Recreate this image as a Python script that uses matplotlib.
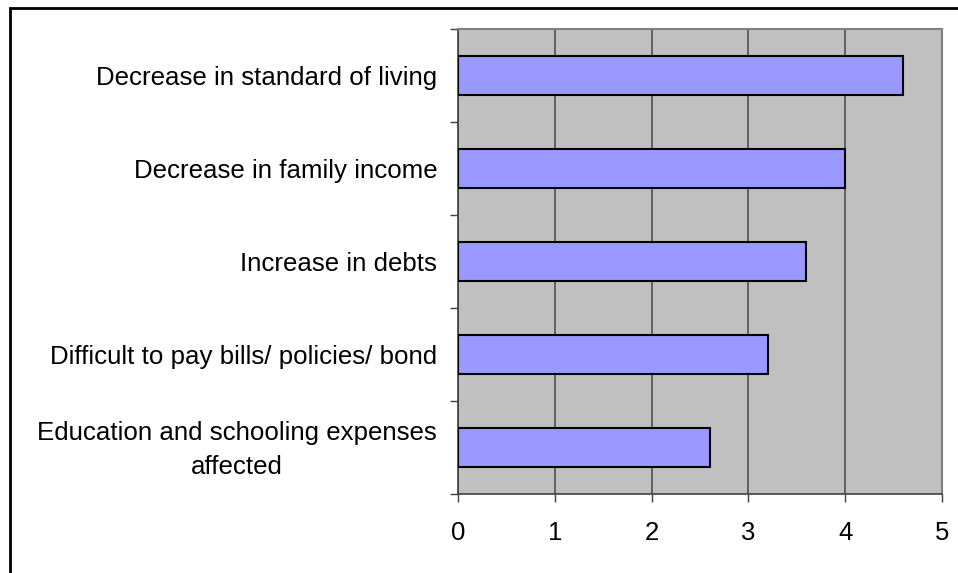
import matplotlib.pyplot as plt
from matplotlib.patches import Rectangle
from matplotlib.transforms import ScaledTranslation
import numpy as np

categories = [
    "Decrease in standard of living",
    "Decrease in family income",
    "Increase in debts",
    "Difficult to pay bills/ policies/ bond",
    "Education and schooling expenses\naffected",
]
values = [4.6, 4.0, 3.6, 3.2, 2.6]
x_ticks = [0, 1, 2, 3, 4, 5]

plt.rcParams['font.family'] = ['Liberation Sans', 'DejaVu Sans']

fig = plt.figure(figsize=(9.58, 5.73), dpi=100)
ax = fig.add_axes([458 / 958, 79 / 573, 484 / 958, 465 / 573])
ax.set_facecolor('#C0C0C0')

pos = np.arange(len(categories))
ax.barh(pos, values, height=0.41, color='#9999FF', edgecolor='black',
        linewidth=1.5, zorder=3)

ax.set_xlim(0, 5)
ax.set_ylim(len(categories) - 0.5, -0.5)

ax.set_xticks(x_ticks)
ax.set_xticklabels([str(t) for t in x_ticks], fontsize=18.5)
ax.tick_params(axis='x', length=6, width=1, color='#404040', pad=13.5,
               direction='out')
ax.grid(axis='x', color='#505050', linewidth=1.2, zorder=1)

ax.set_yticks(pos)
ylabels = ax.set_yticklabels(categories, fontsize=18.6, multialignment='center',
                             linespacing=1.55)
ax.set_yticks(np.arange(len(categories) + 1) - 0.5, minor=True)
ax.tick_params(axis='y', which='major', length=0, pad=15)
ax.tick_params(axis='y', which='minor', length=6, width=1, color='#404040',
               direction='out')

# two-line label sits a little higher in the original
lbl = ylabels[-1]
lbl.set_transform(lbl.get_transform() + ScaledTranslation(0, 5 / 100, fig.dpi_scale_trans))

for side in ['top', 'right']:
    ax.spines[side].set_color('#808080')
    ax.spines[side].set_linewidth(1.5)
for side in ['left', 'bottom']:
    ax.spines[side].set_color('#404040')
    ax.spines[side].set_linewidth(1.2)

# outer chart border, cut off at the right and bottom of the picture
border = Rectangle((9.5 / 958, -0.05), 1.1, 1.05 - 8.5 / 573,
                   transform=fig.transFigure, fill=False,
                   edgecolor='black', linewidth=2, clip_on=False)
fig.patches.append(border)

fig.savefig('out.png', dpi=100)
